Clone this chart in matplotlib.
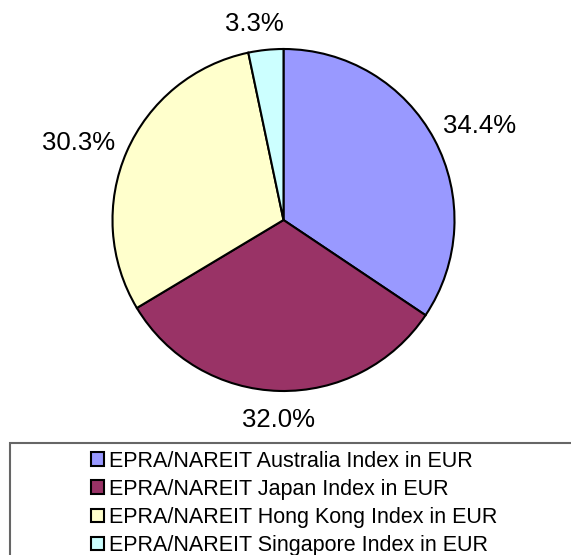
import matplotlib
matplotlib.use("Agg")
import matplotlib.pyplot as plt
from matplotlib.patches import Rectangle

plt.rcParams['font.family'] = ['Liberation Sans', 'DejaVu Sans']

# data
labels = ['EPRA/NAREIT Australia Index in EUR',
          'EPRA/NAREIT Japan Index in EUR',
          'EPRA/NAREIT Hong Kong Index in EUR',
          'EPRA/NAREIT Singapore Index in EUR']
shares = [34.4, 32.0, 30.3, 3.3]
colors = ['#9999FF', '#993366', '#FFFFCC', '#CCFFFF']

W, H = 571, 555
fig = plt.figure(figsize=(W / 100, H / 100), dpi=100)
ax = fig.add_axes([0, 0, 1, 1])

# work in pixel units (y up)
cx, cy, r = 283.5, H - 220, 171
wedges, _ = ax.pie(shares, colors=colors, startangle=90, counterclock=False,
                   center=(cx, cy), radius=r, frame=True,
                   wedgeprops=dict(edgecolor='black', linewidth=1.5))
ax.set_xlim(0, W)
ax.set_ylim(0, H)
ax.set_aspect('auto')
ax.axis('off')

# label baseline positions relative to pie center, in radius units
label_pos = [(1.149, 0.509), (-0.032, -1.211), (-1.196, 0.41), (-0.173, 1.104)]
for val, (dx, dy) in zip(shares, label_pos):
    ax.text(cx + dx * r, cy + dy * r, f'{val:.1f}%', fontsize=18.5,
            ha='center', va='baseline')

# legend frame, runs off the bottom/right edge like the original
ax.add_patch(Rectangle((10, -10), 600, H - 442.5 + 10, facecolor='none',
                       edgecolor='#666666', linewidth=1.5, clip_on=False))
leg = ax.legend(wedges, labels, loc='upper center',
                bbox_to_anchor=(294 / W, (H - 440) / H), frameon=False,
                fontsize=15.5, handlelength=0.6, handleheight=0.6,
                handletextpad=0.25, labelspacing=0.33, borderpad=0)
for h in leg.legend_handles:
    h.set_linewidth(1.5)

fig.savefig('out.png', dpi=100)
